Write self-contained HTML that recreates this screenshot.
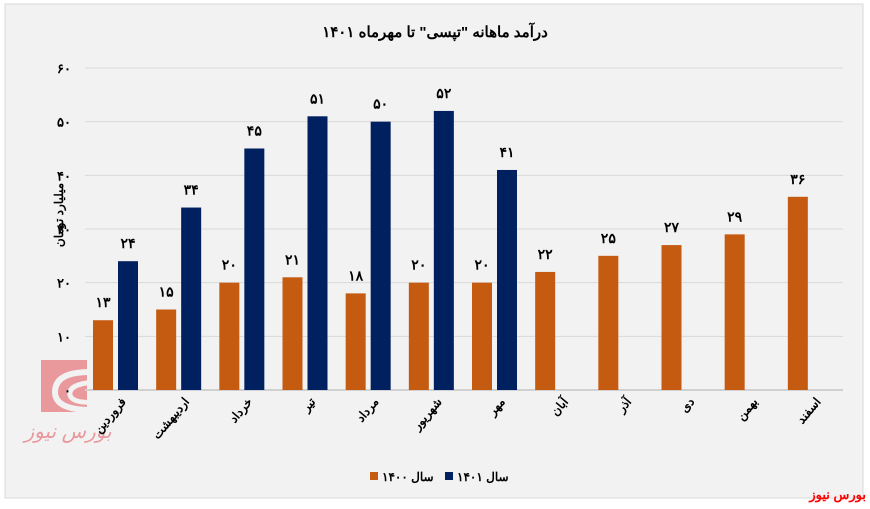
<!DOCTYPE html>
<html><head><meta charset="utf-8"><style>
body{margin:0;background:#fff;width:870px;height:504px;overflow:hidden;font-family:"Liberation Sans","Noto Sans CJK SC",sans-serif}
</style></head><body>
<svg width="870" height="504" xmlns="http://www.w3.org/2000/svg">
<rect x="5" y="4" width="858" height="494" fill="#f2f2f2" stroke="#d9d9d9"/>
<g opacity="0.85">
<rect x="41" y="360" width="46" height="52" fill="#e8898e"/>
<path d="M90 372 Q55 372 55 392 Q55 410 92 410" stroke="#f2f2f2" stroke-width="6" fill="none"/>
<path d="M95 382 Q68 384 70 395 Q72 404 98 402" stroke="#f2f2f2" stroke-width="5" fill="none"/>
<text x="68" y="438" font-size="20" fill="#e8898e" font-style="italic" text-anchor="middle">بورس نیوز</text>
</g>
<text x="435" y="37" font-size="15" font-weight="bold" text-anchor="middle" fill="#000">درآمد ماهانه "تپسی" تا مهرماه ۱۴۰۱</text>
<g id="grid"></g><g id="bars"></g><g id="labels"></g>
<text transform="translate(63,215) rotate(-90)" font-size="12" font-weight="bold" text-anchor="middle">میلیارد تومان</text>
<g>
<rect x="370" y="472" width="8" height="8" fill="#c55a11"/>
<text x="382" y="481" font-size="12" font-weight="bold">سال ۱۴۰۰</text>
<rect x="445" y="472" width="8" height="8" fill="#002060"/>
<text x="457" y="481" font-size="12" font-weight="bold">سال ۱۴۰۱</text>
</g>
<text x="866" y="499" font-size="13" font-weight="bold" fill="#ff0000" text-anchor="end">بورس نیوز</text>
</svg>
<script>
const categories=["فروردین","اردیبهشت","خرداد","تیر","مرداد","شهریور","مهر","آبان","آذر","دی","بهمن","اسفند"];
const values1400=[13,15,20,21,18,20,20,22,25,27,29,36];
const values1401=[24,34,45,51,50,52,41,null,null,null,null,null];
const yTicks=[0,10,20,30,40,50,60];
const yTickLabels=["۰","۱۰","۲۰","۳۰","۴۰","۵۰","۶۰"];
const fa=n=>String(n).replace(/\d/g,d=>"۰۱۲۳۴۵۶۷۸۹"[d]);
const NS="http://www.w3.org/2000/svg";
const X0=85,X1=843,Y0=390,Y1=68,MAX=60;
const band=(X1-X0)/categories.length;
const y=v=>Y0-(v/MAX)*(Y0-Y1);
function mk(tag,attrs,parent,txt){const e=document.createElementNS(NS,tag);for(const k in attrs)e.setAttribute(k,attrs[k]);if(txt!=null)e.textContent=txt;document.getElementById(parent).appendChild(e);return e;}
yTicks.forEach((t,i)=>{
 const l=mk("line",{x1:X0,x2:X1,y1:y(t),y2:y(t),stroke:i===0?"#d0d0d0":"#d9d9d9","stroke-width":i===0?2:1},"grid");
 
 
 const tx=mk("text",{x:71,y:y(t)+5,"font-size":13,"font-weight":"bold","text-anchor":"end"},"grid",yTickLabels[i]);
 
 
});
categories.forEach((c,i)=>{
 const bx=X0+i*band;
 const v=values1400[i];
 const r=mk("rect",{x:bx+8,y:y(v),width:20,height:Y0-y(v),fill:"#c55a11"},"bars");
 
 
 const t=mk("text",{x:bx+18,y:y(v)-13,"font-size":14,"font-weight":"bold","text-anchor":"middle"},"labels",fa(v));
 
 
 const w=values1401[i];
 if(w!=null){
  const r2=mk("rect",{x:bx+33,y:y(w),width:20,height:Y0-y(w),fill:"#002060"},"bars");
  
  
  const t2=mk("text",{x:bx+43,y:y(w)-13,"font-size":14,"font-weight":"bold","text-anchor":"middle"},"labels",fa(w));
  
  
 }
 const cx=bx+band/2+10;
 const lab=mk("text",{x:cx,y:402,"font-size":12,"font-weight":"bold","text-anchor":"end",transform:`rotate(-50 ${cx} 402)`},"labels",c);
 
 
});
</script>
</body></html>
